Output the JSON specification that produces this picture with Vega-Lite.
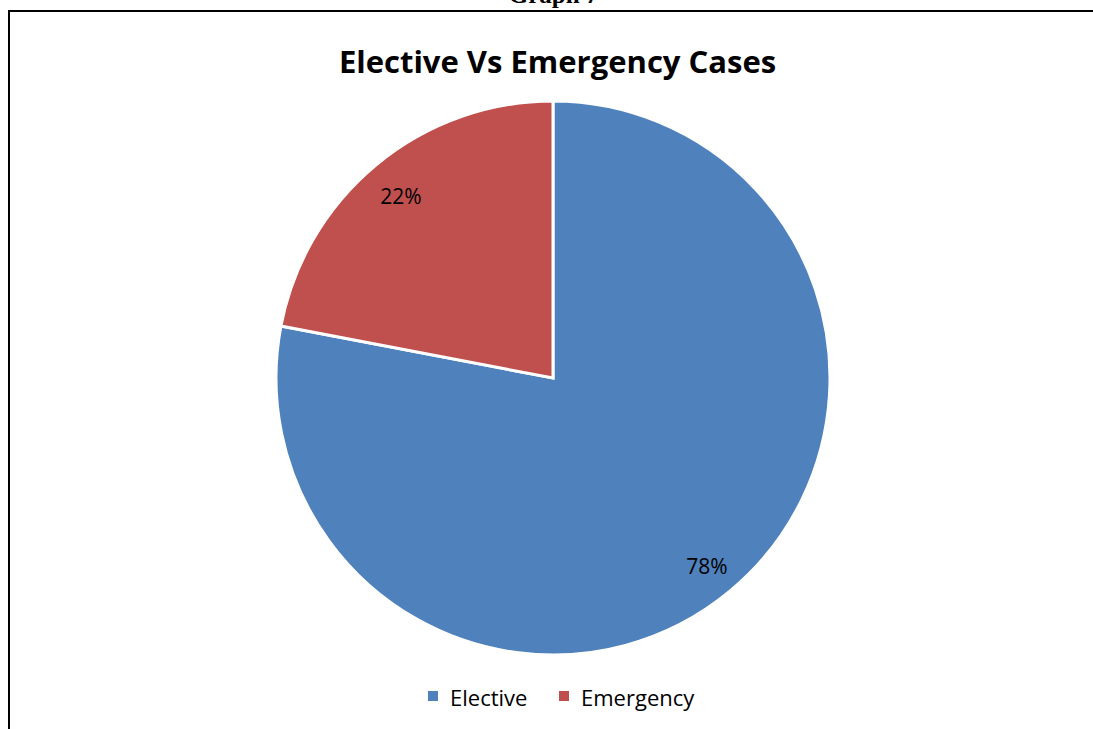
{
  "$schema": "https://vega.github.io/schema/vega-lite/v6.json",
  "usermeta": {"embedOptions": {"actions": false}},
  "width": 1085,
  "height": 719,
  "autosize": {"type": "none"},
  "padding": {"left": 8, "top": 10, "right": 0, "bottom": 0},
  "background": "white",
  "config": {
    "view": {"stroke": null},
    "font": "Open Sans"
  },
  "data": {
    "values": [
      {"type": "Elective", "share": 78, "label": "78%", "seq": 1},
      {"type": "Emergency", "share": 22, "label": "22%", "seq": 2}
    ]
  },
  "layer": [
    {
      "data": {"values": [{"edge": "top"}]},
      "mark": {"type": "rect", "fill": "black", "strokeWidth": 0},
      "encoding": {
        "x": {"value": 0},
        "x2": {"value": {"expr": "width"}},
        "y": {"value": 0},
        "y2": {"value": 2}
      }
    },
    {
      "data": {"values": [{"edge": "left"}]},
      "mark": {"type": "rect", "fill": "black", "strokeWidth": 0},
      "encoding": {
        "x": {"value": 0},
        "x2": {"value": 2},
        "y": {"value": 0},
        "y2": {"value": {"expr": "height"}}
      }
    },
    {
      "mark": {
        "type": "arc",
        "radius": 277,
        "x": {"expr": "width / 2 + 2.5"},
        "y": {"expr": "height / 2 + 8.5"},
        "stroke": "white",
        "strokeWidth": 3
      },
      "encoding": {
        "theta": {"field": "share", "type": "quantitative", "stack": true},
        "order": {"field": "seq", "type": "ordinal"},
        "color": {
          "field": "type",
          "type": "nominal",
          "scale": {"domain": ["Elective", "Emergency"], "range": ["#4F81BD", "#C0504D"]},
          "legend": {
            "title": null,
            "orient": "none",
            "legendX": 414,
            "legendY": 678,
            "direction": "horizontal",
            "symbolType": "M-1,-1.6H1V0.4H-1Z",
            "symbolSize": 100,
            "symbolStrokeWidth": 0,
            "labelFont": "Open Sans",
            "labelFontSize": 22,
            "labelColor": "black",
            "labelOffset": 6,
            "columnPadding": 25,
            "labelLimit": 300
          }
        }
      }
    },
    {
      "mark": {
        "type": "text",
        "radius": 240,
        "x": {"expr": "width / 2 + 2.5"},
        "y": {"expr": "height / 2 + 8.5"},
        "dx": 1,
        "dy": 5,
        "font": "Open Sans",
        "fontSize": 21,
        "color": "black",
        "align": "center",
        "baseline": "middle"
      },
      "encoding": {
        "theta": {"field": "share", "type": "quantitative", "stack": true},
        "order": {"field": "seq", "type": "ordinal"},
        "text": {"field": "label", "type": "nominal"}
      }
    },
    {
      "data": {"values": [{"caption": "Elective Vs Emergency Cases"}]},
      "mark": {
        "type": "text",
        "x": {"expr": "width / 2 + 7"},
        "y": 63,
        "font": "Open Sans",
        "fontSize": 31,
        "fontWeight": "bold",
        "color": "black",
        "align": "center",
        "baseline": "alphabetic"
      },
      "encoding": {"text": {"field": "caption", "type": "nominal"}}
    },
    {
      "data": {"values": [{"caption": "Graph 7"}]},
      "mark": {
        "type": "text",
        "x": {"expr": "width / 2 + 3"},
        "y": -7,
        "font": "Liberation Serif",
        "fontSize": 25,
        "fontWeight": "bold",
        "color": "black",
        "align": "center",
        "baseline": "alphabetic"
      },
      "encoding": {"text": {"field": "caption", "type": "nominal"}}
    }
  ]
}
